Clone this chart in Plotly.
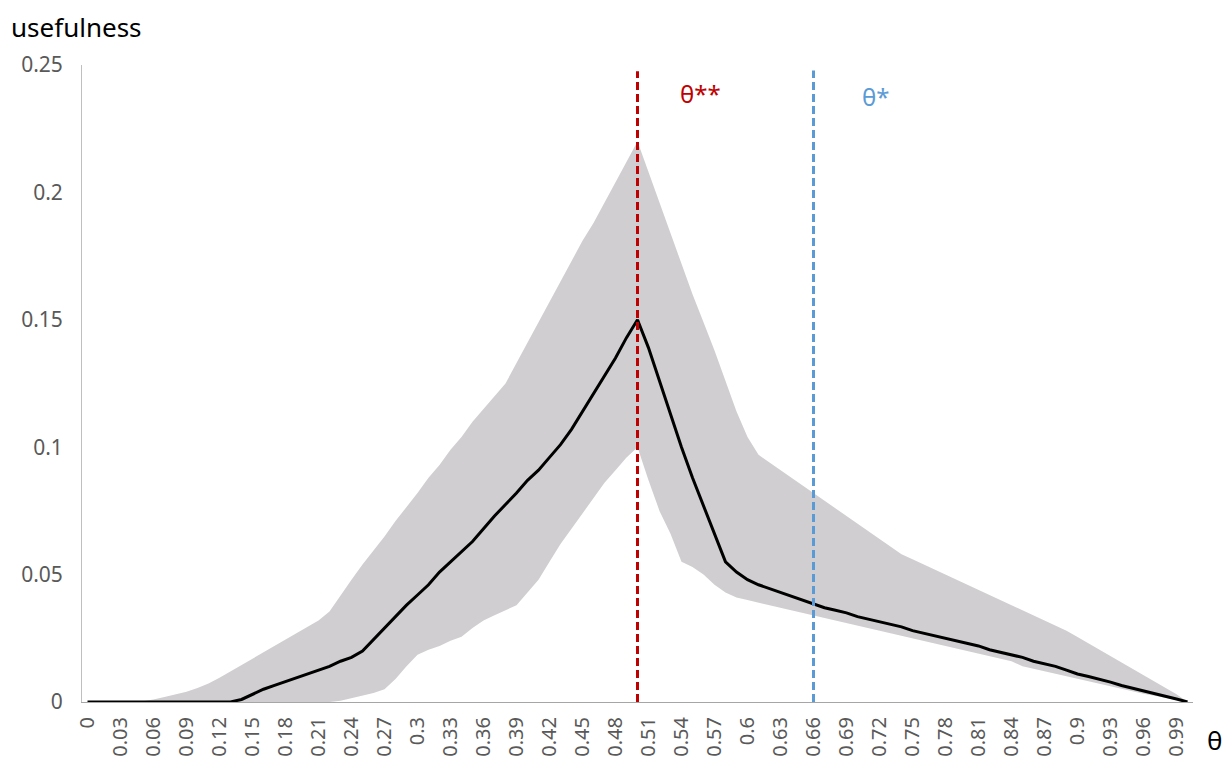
import plotly.graph_objects as go

# theta categories 0.00 .. 1.00
theta = [round(i * 0.01, 2) for i in range(101)]

mean_use = [
    0, 0, 0, 0, 0, 0, 0, 0, 0, 0,
    0, 0, 0, 0, 0.001, 0.003, 0.005, 0.0065, 0.008, 0.0095,
    0.011, 0.0125, 0.014, 0.016, 0.0175, 0.020, 0.0245, 0.029, 0.0335, 0.038,
    0.042, 0.046, 0.051, 0.055, 0.059, 0.063, 0.068, 0.073, 0.0775, 0.082,
    0.087, 0.091, 0.096, 0.101, 0.107, 0.114, 0.121, 0.128, 0.135, 0.143,
    0.150, 0.139, 0.126, 0.113, 0.100, 0.088, 0.077, 0.066, 0.055, 0.051,
    0.048, 0.046, 0.0445, 0.043, 0.0415, 0.040, 0.0385, 0.037, 0.036, 0.035,
    0.0335, 0.0325, 0.0315, 0.0305, 0.0295, 0.028, 0.027, 0.026, 0.025, 0.024,
    0.023, 0.022, 0.0205, 0.0195, 0.0185, 0.0175, 0.016, 0.015, 0.014, 0.0125,
    0.011, 0.010, 0.009, 0.0078, 0.0065, 0.0055, 0.0045, 0.0035, 0.0025, 0.0012,
    0,
]

upper_use = [
    0, 0, 0, 0, 0, 0.0003, 0.001, 0.002, 0.003, 0.004,
    0.0055, 0.0073, 0.0095, 0.012, 0.0145, 0.017, 0.0195, 0.022, 0.0245, 0.027,
    0.0295, 0.032, 0.0355, 0.042, 0.048, 0.054, 0.0595, 0.065, 0.071, 0.0765,
    0.082, 0.088, 0.093, 0.099, 0.104, 0.110, 0.115, 0.120, 0.125, 0.133,
    0.141, 0.149, 0.157, 0.165, 0.173, 0.181, 0.188, 0.196, 0.204, 0.212,
    0.220, 0.208, 0.196, 0.184, 0.172, 0.160, 0.149, 0.138, 0.126, 0.114,
    0.104, 0.097, 0.094, 0.091, 0.088, 0.085, 0.082, 0.079, 0.076, 0.073,
    0.070, 0.067, 0.064, 0.061, 0.058, 0.056, 0.054, 0.052, 0.050, 0.048,
    0.046, 0.044, 0.042, 0.040, 0.038, 0.036, 0.034, 0.032, 0.030, 0.028,
    0.0255, 0.023, 0.0205, 0.018, 0.0155, 0.013, 0.0105, 0.008, 0.0055, 0.003,
    0,
]

lower_use = [
    0, 0, 0, 0, 0, 0, 0, 0, 0, 0,
    0, 0, 0, 0, 0, 0, 0, 0, 0, 0,
    0, 0, 0, 0.0005, 0.0015, 0.0025, 0.0035, 0.005, 0.009, 0.014,
    0.0185, 0.0205, 0.022, 0.024, 0.0256, 0.029, 0.032, 0.034, 0.036, 0.038,
    0.043, 0.048, 0.055, 0.062, 0.068, 0.074, 0.080, 0.086, 0.091, 0.096,
    0.100, 0.087, 0.075, 0.066, 0.055, 0.053, 0.050, 0.046, 0.043, 0.041,
    0.040, 0.039, 0.038, 0.037, 0.036, 0.035, 0.034, 0.033, 0.032, 0.031,
    0.030, 0.029, 0.028, 0.027, 0.026, 0.025, 0.024, 0.023, 0.022, 0.021,
    0.020, 0.019, 0.018, 0.017, 0.016, 0.014, 0.013, 0.012, 0.011, 0.010,
    0.009, 0.008, 0.007, 0.006, 0.005, 0.004, 0.0032, 0.0025, 0.0017, 0.0008,
    0,
]

theta_double_star = 0.50
theta_star = 0.66

x_tick_vals = [round(i * 0.03, 2) for i in range(34)]
x_tick_text = [("%g" % v) for v in x_tick_vals]
y_tick_vals = [0, 0.05, 0.10, 0.15, 0.20, 0.25]
y_tick_text = ["0", "0.05", "0.1", "0.15", "0.2", "0.25"]

FONT = "Noto Sans, Open Sans, DejaVu Sans, sans-serif"
BAND = "#D0CED0"
RED = "#C00000"
BLUE = "#5B9BD5"
AXIS_GRAY = "#595959"

fig = go.Figure()
fig.add_trace(go.Scatter(x=theta, y=lower_use, mode="lines",
                         line=dict(width=0, color=BAND), showlegend=False,
                         hoverinfo="skip"))
fig.add_trace(go.Scatter(x=theta, y=upper_use, mode="lines", fill="tonexty",
                         fillcolor=BAND, line=dict(width=0, color=BAND),
                         showlegend=False, hoverinfo="skip"))
fig.add_trace(go.Scatter(x=theta, y=mean_use, mode="lines",
                         line=dict(width=3, color="black"), showlegend=False))

fig.add_shape(type="line", x0=theta_double_star, x1=theta_double_star,
              y0=0, y1=0.2475, xref="x", yref="y",
              line=dict(color=RED, width=3, dash="8px,4px"))
fig.add_shape(type="line", x0=theta_star, x1=theta_star,
              y0=0, y1=0.2478, xref="x", yref="y",
              line=dict(color=BLUE, width=3, dash="8px,4px"))

fig.add_annotation(x=0.557, y=0.239, xref="x", yref="y", text="θ**",
                   showarrow=False, font=dict(color=RED, size=24, family=FONT))
fig.add_annotation(x=0.716, y=0.2375, xref="x", yref="y", text="θ*",
                   showarrow=False, font=dict(color=BLUE, size=24, family=FONT))
fig.add_annotation(x=-0.0648, y=1.0895, xref="paper", yref="paper",
                   text="usefulness", showarrow=False, xanchor="left",
                   yanchor="top", borderpad=0,
                   font=dict(color="black", size=26, family=FONT))
fig.add_annotation(x=1.0198, y=-0.0597, xref="paper", yref="paper",
                   text="θ", showarrow=False, xanchor="center", yanchor="middle",
                   borderpad=0, font=dict(color="black", size=26, family=FONT))

# The page body has an 8px margin; the figure is offset to compensate.
fig.update_layout(
    width=1223, height=753,
    margin=dict(l=74, r=38, t=57, b=59),
    plot_bgcolor="white", paper_bgcolor="white",
    font=dict(family=FONT, color=AXIS_GRAY),
    showlegend=False,
)
fig.update_xaxes(range=[-0.005, 1.005], tickmode="array", tickvals=x_tick_vals,
                 ticktext=x_tick_text, tickangle=-90, showgrid=False,
                 zeroline=False, showline=True, linecolor="#A6A6A6", linewidth=1,
                 ticks="outside", ticklen=6, tickcolor="rgba(0,0,0,0)",
                 tickfont=dict(size=20, color=AXIS_GRAY, family=FONT),
                 automargin=False)
fig.update_yaxes(range=[0, 0.25], tickmode="array", tickvals=y_tick_vals,
                 ticktext=y_tick_text, showgrid=False, zeroline=False,
                 showline=True, linecolor="#BFBFBF", linewidth=1,
                 ticks="outside", ticklen=14, tickcolor="rgba(0,0,0,0)",
                 tickfont=dict(size=21, color=AXIS_GRAY, family=FONT),
                 automargin=False)

fig.write_html("out.html")
